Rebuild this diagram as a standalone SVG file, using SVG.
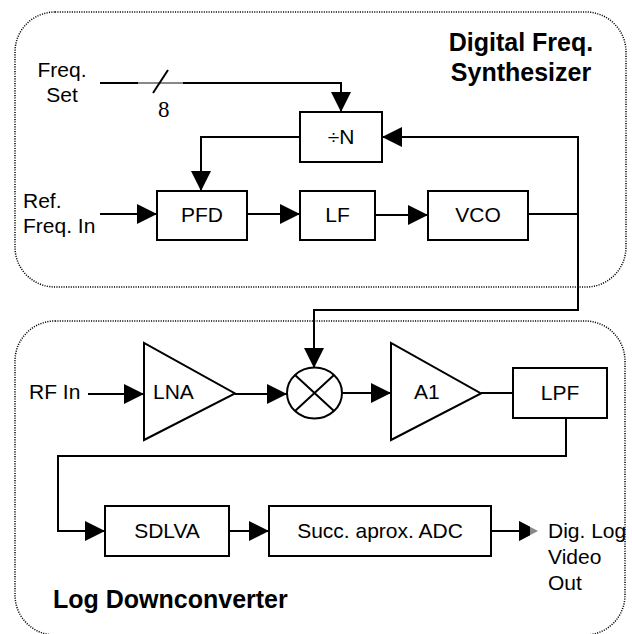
<svg xmlns="http://www.w3.org/2000/svg" width="632" height="634" viewBox="0 0 632 634">
<style>
.frame{fill:none;stroke:#000;stroke-width:1.5;stroke-dasharray:1.1 1.3}
.box{fill:#fff;stroke:#000;stroke-width:2}
.wire{fill:none;stroke:#000;stroke-width:2}
.t{font-family:"Liberation Sans",Arial,Helvetica,sans-serif;font-size:21px;fill:#000}
.m{text-anchor:middle}
.title{font-family:"Liberation Sans",Arial,Helvetica,sans-serif;font-size:25px;font-weight:bold;fill:#000}
</style>
<defs>
<marker id="arr" markerUnits="userSpaceOnUse" markerWidth="20" markerHeight="20" refX="20" refY="10" orient="auto" viewBox="0 0 20 20">
<path d="M0,0 L20,10 L0,20 z" fill="#000"/>
</marker>
</defs>
<rect class="frame" x="15" y="12" width="611" height="275" rx="40" ry="40"/>
<rect class="frame" x="15" y="321" width="610" height="314" rx="40" ry="40"/>
<text class="title m" x="521" y="51">Digital Freq.</text>
<text class="title m" x="521" y="81">Synthesizer</text>
<text class="title" x="53" y="608">Log Downconverter</text>
<g id="connectors">
<path class="wire" d="M100,83 H138"/>
<path d="M138,83 H183" fill="none" stroke="#888" stroke-width="2"/>
<path class="wire" d="M183,83 H341 V112" marker-end="url(#arr)"/>
<path class="wire" d="M153,93 L168,70"/>
<path class="wire" d="M300,137 H201 V191" marker-end="url(#arr)"/>
<path class="wire" d="M100,214 H157" marker-end="url(#arr)"/>
<path class="wire" d="M247,214 H300" marker-end="url(#arr)"/>
<path class="wire" d="M375,215 H428" marker-end="url(#arr)"/>
<path class="wire" d="M528,214 H578 V137 H382" marker-end="url(#arr)"/>
<path class="wire" d="M578,214 V310 H314 V368" marker-end="url(#arr)"/>
<path class="wire" d="M88,394 H144" marker-end="url(#arr)"/>
<path class="wire" d="M235,394 H287" marker-end="url(#arr)"/>
<path class="wire" d="M342,393 H391" marker-end="url(#arr)"/>
<path class="wire" d="M481,393 H513"/>
<path class="wire" d="M566,418 V456 H58 V531 H105" marker-end="url(#arr)"/>
<path class="wire" d="M229,531 H269" marker-end="url(#arr)"/>
<path class="wire" d="M491,531 H520"/>
<path d="M519,521 L538,531 L519,541 z" fill="#888"/>
<path d="M519,521 L530,526.8 L530,535.2 L519,541 z" fill="#000"/>
</g>
<g id="freq-set-label">
<text class="t m" x="62" y="77">Freq.</text>
<text class="t m" x="62" y="102">Set</text>
<text x="158" y="117" font-family="'Liberation Serif','Times New Roman',serif" font-size="23px">8</text>
</g>
<g id="ref-label">
<text class="t" x="23" y="208">Ref.</text>
<text class="t" x="23" y="233">Freq. In</text>
</g>
<g id="divN">
<rect class="box" x="300" y="112" width="82" height="50"/>
<text class="t m" x="341" y="144">÷N</text>
</g>
<g id="pfd">
<rect class="box" x="157" y="191" width="90" height="49"/>
<text class="t m" x="202" y="222">PFD</text>
</g>
<g id="lf">
<rect class="box" x="300" y="191" width="75" height="49"/>
<text class="t m" x="337.5" y="222">LF</text>
</g>
<g id="vco">
<rect class="box" x="428" y="191" width="100" height="49"/>
<text class="t m" x="478" y="222">VCO</text>
</g>
<g id="rf-label">
<text class="t" x="29" y="399">RF In</text>
</g>
<g id="lna">
<path class="box" d="M144,343 L144,440 L235,393.5 z"/>
<text class="t" x="153" y="399">LNA</text>
</g>
<g id="mixer">
<ellipse class="box" cx="314.5" cy="393" rx="27.5" ry="25.5"/>
<path class="wire" d="M295,375 L334,411 M334,375 L295,411"/>
</g>
<g id="a1">
<path class="box" d="M391,343 L391,440 L481,393.5 z"/>
<text class="t" x="414" y="399">A1</text>
</g>
<g id="lpf">
<rect class="box" x="513" y="368" width="94" height="50"/>
<text class="t m" x="560" y="400">LPF</text>
</g>
<g id="sdlva">
<rect class="box" x="105" y="506" width="124" height="50"/>
<text class="t m" x="167" y="538">SDLVA</text>
</g>
<g id="adc">
<rect class="box" x="269" y="506" width="222" height="50"/>
<text class="t m" x="380" y="538">Succ. aprox. ADC</text>
</g>
<g id="out-label">
<text class="t" x="548" y="538">Dig. Log</text>
<text class="t" x="548" y="564">Video</text>
<text class="t" x="548" y="590">Out</text>
</g>
</svg>
